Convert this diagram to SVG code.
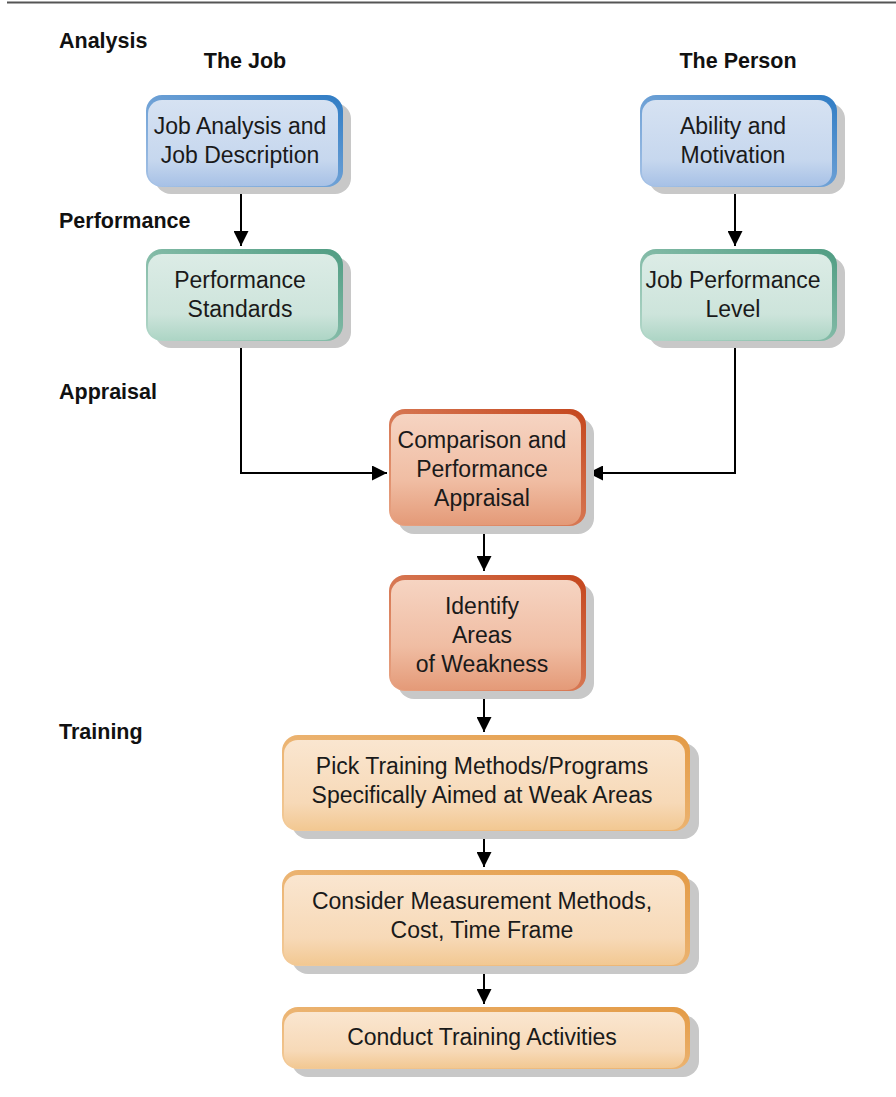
<svg xmlns="http://www.w3.org/2000/svg" width="896" height="1097" viewBox="0 0 896 1097">
<defs>
<linearGradient id="bB" x1="0" y1="1" x2="1" y2="0"><stop offset="0" stop-color="#a8c3e6"/><stop offset="1" stop-color="#2f7cc4"/></linearGradient>
<linearGradient id="bF" x1="0" y1="0" x2="0" y2="1"><stop offset="0" stop-color="#d6e2f2"/><stop offset="0.7" stop-color="#c6d7ee"/><stop offset="1" stop-color="#a7c1e6"/></linearGradient>
<linearGradient id="gB" x1="0" y1="1" x2="1" y2="0"><stop offset="0" stop-color="#b4d8ca"/><stop offset="1" stop-color="#4f9c82"/></linearGradient>
<linearGradient id="gF" x1="0" y1="0" x2="0" y2="1"><stop offset="0" stop-color="#dcece6"/><stop offset="0.7" stop-color="#cde4db"/><stop offset="1" stop-color="#add5c5"/></linearGradient>
<linearGradient id="rB" x1="0" y1="1" x2="1" y2="0"><stop offset="0" stop-color="#e8a585"/><stop offset="1" stop-color="#c4461d"/></linearGradient>
<linearGradient id="rF" x1="0" y1="0" x2="0" y2="1"><stop offset="0" stop-color="#f6d4c2"/><stop offset="0.6" stop-color="#f0bda3"/><stop offset="1" stop-color="#e49a78"/></linearGradient>
<linearGradient id="oB" x1="0" y1="1" x2="1" y2="0"><stop offset="0" stop-color="#f3cb9a"/><stop offset="1" stop-color="#e39a45"/></linearGradient>
<linearGradient id="oF" x1="0" y1="0" x2="0" y2="1"><stop offset="0" stop-color="#fae6d0"/><stop offset="0.7" stop-color="#f7d9b7"/><stop offset="1" stop-color="#f2c892"/></linearGradient>
<marker id="ah" viewBox="0 0 10 10" refX="10" refY="5" markerWidth="7.5" markerHeight="7.5" markerUnits="strokeWidth" orient="auto"><path d="M0,0 L10,5 L0,10 z" fill="#000"/></marker>
</defs>
<style>
.t{font-family:"Liberation Sans",Arial,sans-serif;font-size:23px;fill:#1a1a1a;text-anchor:middle}
.h{font-family:"Liberation Sans",Arial,sans-serif;font-size:21.5px;font-weight:bold;fill:#111}
.sh{fill:#c8c8c8}
.c{fill:none;stroke:#000;stroke-width:2}
</style>
<line x1="7" y1="2.5" x2="896" y2="2.5" stroke="#555" stroke-width="2"/>
<g id="labels">
<text class="h" x="59" y="48">Analysis</text>
<text class="h" x="245" y="68" text-anchor="middle">The Job</text>
<text class="h" x="738" y="68" text-anchor="middle">The Person</text>
<text class="h" x="59" y="228">Performance</text>
<text class="h" x="59" y="399">Appraisal</text>
<text class="h" x="59" y="739">Training</text>
</g>
<g id="connectors">
<path class="c" d="M241,188 V246" marker-end="url(#ah)"/>
<path class="c" d="M735,188 V246" marker-end="url(#ah)"/>
<path class="c" d="M241,341 V473 H387" marker-end="url(#ah)"/>
<path class="c" d="M735,341 V473 H588" marker-end="url(#ah)"/>
<path class="c" d="M484,530 V571" marker-end="url(#ah)"/>
<path class="c" d="M484,693 V732" marker-end="url(#ah)"/>
<path class="c" d="M484,832 V867" marker-end="url(#ah)"/>
<path class="c" d="M484,968 V1004" marker-end="url(#ah)"/>
</g>
<g id="n1">
<rect class="sh" x="155" y="103" width="196" height="91" rx="16"/>
<rect x="146" y="95" width="197" height="92" rx="16" fill="url(#bB)"/>
<rect x="148" y="100" width="190" height="86" rx="14" fill="url(#bF)"/>
<text class="t" x="240" y="134">Job Analysis and</text>
<text class="t" x="240" y="163">Job Description</text>
</g>
<g id="n2">
<rect class="sh" x="649" y="103" width="196" height="91" rx="16"/>
<rect x="640" y="95" width="197" height="92" rx="16" fill="url(#bB)"/>
<rect x="642" y="100" width="190" height="86" rx="14" fill="url(#bF)"/>
<text class="t" x="733" y="134">Ability and</text>
<text class="t" x="733" y="163">Motivation</text>
</g>
<g id="n3">
<rect class="sh" x="155" y="257" width="196" height="91" rx="16"/>
<rect x="146" y="249" width="197" height="92" rx="16" fill="url(#gB)"/>
<rect x="148" y="254" width="190" height="86" rx="14" fill="url(#gF)"/>
<text class="t" x="240" y="288">Performance</text>
<text class="t" x="240" y="317">Standards</text>
</g>
<g id="n4">
<rect class="sh" x="649" y="257" width="196" height="91" rx="16"/>
<rect x="640" y="249" width="197" height="92" rx="16" fill="url(#gB)"/>
<rect x="642" y="254" width="190" height="86" rx="14" fill="url(#gF)"/>
<text class="t" x="733" y="288">Job Performance</text>
<text class="t" x="733" y="317">Level</text>
</g>
<g id="n5">
<rect class="sh" x="398" y="418" width="196" height="116" rx="16"/>
<rect x="389" y="409" width="197" height="117" rx="16" fill="url(#rB)"/>
<rect x="391" y="414" width="190" height="111" rx="14" fill="url(#rF)"/>
<text class="t" x="482" y="448">Comparison and</text>
<text class="t" x="482" y="477">Performance</text>
<text class="t" x="482" y="506">Appraisal</text>
</g>
<g id="n6">
<rect class="sh" x="398" y="584" width="196" height="115" rx="16"/>
<rect x="389" y="575" width="197" height="116" rx="16" fill="url(#rB)"/>
<rect x="391" y="580" width="190" height="110" rx="14" fill="url(#rF)"/>
<text class="t" x="482" y="614">Identify</text>
<text class="t" x="482" y="643">Areas</text>
<text class="t" x="482" y="672">of Weakness</text>
</g>
<g id="n7">
<rect class="sh" x="292" y="743" width="407" height="96" rx="16"/>
<rect x="282" y="735" width="408" height="96" rx="16" fill="url(#oB)"/>
<rect x="284" y="740" width="401" height="90" rx="14" fill="url(#oF)"/>
<text class="t" x="482" y="774">Pick Training Methods/Programs</text>
<text class="t" x="482" y="803">Specifically Aimed at Weak Areas</text>
</g>
<g id="n8">
<rect class="sh" x="292" y="878" width="407" height="96" rx="16"/>
<rect x="282" y="870" width="408" height="96" rx="16" fill="url(#oB)"/>
<rect x="284" y="875" width="401" height="90" rx="14" fill="url(#oF)"/>
<text class="t" x="482" y="909">Consider Measurement Methods,</text>
<text class="t" x="482" y="938">Cost, Time Frame</text>
</g>
<g id="n9">
<rect class="sh" x="292" y="1015" width="407" height="62" rx="16"/>
<rect x="282" y="1007" width="408" height="62" rx="16" fill="url(#oB)"/>
<rect x="284" y="1012" width="401" height="56" rx="14" fill="url(#oF)"/>
<text class="t" x="482" y="1045">Conduct Training Activities</text>
</g>
</svg>
